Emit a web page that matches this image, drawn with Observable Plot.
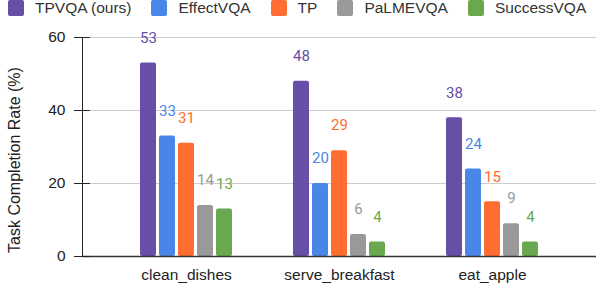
<!DOCTYPE html>
<html><head><meta charset="utf-8">
<script src="https://cdn.jsdelivr.net/npm/d3@7"></script>
<script src="https://cdn.jsdelivr.net/npm/@observablehq/plot@0.6"></script>
<style>
body{margin:0;background:#fff;font-family:"Liberation Sans",Arial,sans-serif;}
#legend{display:flex;align-items:center;height:16px;padding-left:8px;font-size:15.5px;color:#333;margin-bottom:6px;}
.item{display:flex;align-items:center;margin-right:20px;white-space:nowrap;}
.sw{width:16px;height:16px;border-radius:2px;margin-right:11px;}
#chart{position:relative;width:596px;height:262px;}
#chart svg{display:block;position:absolute;left:0;top:0;}
</style></head><body>
<div id="legend"></div><div id="chart"></div>
<script>
const tasks = ["clean_dishes", "serve_breakfast", "eat_apple"];
const methods = ["TPVQA (ours)", "EffectVQA", "TP", "PaLMEVQA", "SuccessVQA"];
const colors = ["#674ea7", "#4a86e8", "#ff6d31", "#999999", "#6aa84f"];
const tpvqa = [53, 48, 38];
const effectvqa = [33, 20, 24];
const tp = [31, 29, 15];
const palmevqa = [14, 6, 9];
const successvqa = [13, 4, 4];
const yTicks = [0, 20, 40, 60];
const yLabel = "Task Completion Rate (%)";

const series = [tpvqa, effectvqa, tp, palmevqa, successvqa];
const data = [];
tasks.forEach((t, i) => methods.forEach((m, j) => data.push({task: t, method: m, value: series[j][i]})));

// legend
const lg = d3.select("#legend");
methods.forEach((m, j) => {
  const it = lg.append("div").attr("class", "item");
  it.append("div").attr("class", "sw").style("background", colors[j]);
  it.append("span").text(m);
});

const common = {
  width: 596, height: 262,
  marginLeft: 82, marginRight: 0, marginTop: 15, marginBottom: 28,
  y: {domain: [0, 60], axis: null}
};
const font = '"Liberation Sans", Arial, sans-serif';

// background layer: grid, axis, y label
const back = Plot.plot({
  ...common,
  style: {fontFamily: font, fontSize: "15.5px", color: "#222", background: "#fff", overflow: "visible"},
  marks: [
    Plot.ruleY(yTicks.filter(d => d > 0), {stroke: "#cccccc", strokeWidth: 1}),
    Plot.frame({anchor: "left", stroke: "#222"}),
    Plot.axisY(yTicks, {anchor: "left", tickSize: 16, dx: 8, tickPadding: 9, label: null, stroke: "#222"}),
    Plot.text([yLabel], {frameAnchor: "left", textAnchor: "middle", rotate: -90, dx: -68, dy: 13, fontSize: 16, fill: "#222"})
  ]
});

// foreground layer: grouped bars
const front = Plot.plot({
  ...common,
  style: {fontFamily: font, fontSize: "15.5px", color: "#222", background: "transparent", overflow: "visible"},
  fx: {domain: tasks, paddingInner: 0.3746, paddingOuter: 0.3616, label: null},
  x: {domain: methods, paddingInner: 0.14, paddingOuter: 0, axis: null},
  color: {domain: methods, range: colors},
  marks: [
    Plot.barY(data, {fx: "task", x: "method", y: "value", fill: "method", rx: 2}),
    Plot.text(data, {fx: "task", x: "method", y: "value", text: "value", fill: "method", dy: -25, fontFamily: "Roboto", fontSize: 15}),
    Plot.axisFx({anchor: "bottom", tickSize: 0, tickPadding: 12, label: null})
  ]
});

// baseline layer on top of bars
const base = Plot.plot({
  ...common,
  style: {background: "transparent", overflow: "visible"},
  marks: [
    Plot.ruleY([0], {stroke: "#333", strokeWidth: 1.5}),
    Plot.axisY([0], {anchor: "left", tickSize: 16, dx: 8, text: null, label: null, stroke: "#222"})
  ]
});

const c = document.getElementById("chart");
c.append(back);
c.append(front);
c.append(base);
</script>
</body></html>
